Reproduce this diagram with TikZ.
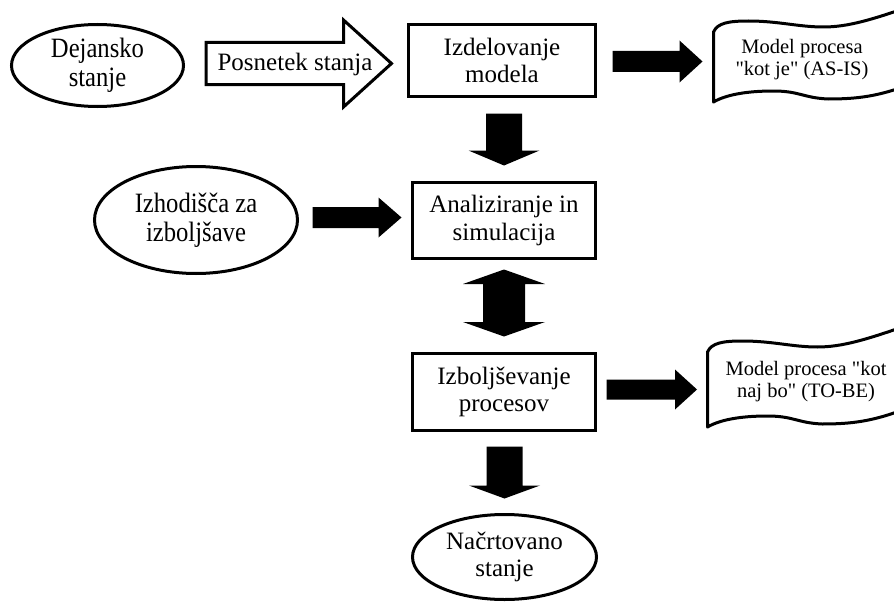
\documentclass[tikz,border=0pt]{standalone}
\usepackage{fontspec}
\setmainfont{Liberation Serif}[Ligatures=TeXOff]
\newfontfamily\tallfont{Liberation Serif}[FakeStretch=0.88, Ligatures=TeXOff]
\usetikzlibrary{shapes.geometric,calc}

\newcommand{\mainfs}{\fontsize{25}{27.5}\selectfont}
\newcommand{\tallfs}{\tallfont\fontsize{28}{29.5}\selectfont}
\newcommand{\tapefs}{\fontsize{20.5}{22}\selectfont}

% solid block arrow pointing right: tail x from #1, tip #2
\newcommand{\rblock}[5]{%
  \fill let \p1=(#1), \p2=(#2) in
    (\x1,\y2+#3) -- (\x2-#5,\y2+#3) -- (\x2-#5,\y2+#4) -- (\x2,\y2)
    -- (\x2-#5,\y2-#4) -- (\x2-#5,\y2-#3) -- (\x1,\y2-#3) -- cycle;}
% solid block arrow pointing down: tail y from #1, tip #2
\newcommand{\dblock}[5]{%
  \fill let \p1=(#1), \p2=(#2) in
    (\x2-#3,\y1) -- (\x2-#3,\y2+#5) -- (\x2-#4,\y2+#5) -- (\x2,\y2)
    -- (\x2+#4,\y2+#5) -- (\x2+#3,\y2+#5) -- (\x2+#3,\y1) -- cycle;}
% solid vertical block arrow with heads at both ends
\newcommand{\udblock}[5]{%
  \fill let \p1=(#1), \p2=(#2) in
    (\x2,\y1) -- (\x2+#4,\y1-#5) -- (\x2+#3,\y1-#5) -- (\x2+#3,\y2+#5)
    -- (\x2+#4,\y2+#5) -- (\x2,\y2) -- (\x2-#4,\y2+#5) -- (\x2-#3,\y2+#5)
    -- (\x2-#3,\y1-#5) -- (\x2-#4,\y1-#5) -- cycle;}
% punched-tape outline, origin at the top-left corner, #1 = height
\newcommand{\tapeoutline}[1]{%
  \draw[tapeline] (0,0) .. controls (4,-9) and (15,-11) .. (35,-11)
    .. controls (65,-11) and (85,-5) .. (110,-5)
    .. controls (135,-5) and (160,-13) .. (195,-25)
    -- (195,#1-17)
    .. controls (165,#1-6) and (145,#1-3) .. (115,#1-3)
    .. controls (90,#1-4) and (86,#1-11) .. (60,#1-11)
    .. controls (32,#1-11) and (12,#1-7) .. (0,#1) -- cycle;}

\tikzset{
  frame/.style={draw, line width=3pt, rectangle, inner sep=0pt, align=center, font=\mainfs},
  oval/.style={draw, line width=3pt, ellipse, inner sep=0pt, align=center, font=\mainfs},
  plain/.style={inner sep=0pt, align=center, font=\mainfs},
  tapetext/.style={inner sep=0pt, align=center, font=\tapefs},
  tapeline/.style={draw, line width=3pt, line join=round},
  hollow/.style={draw, line width=3pt, line join=miter, fill=white}
}

\begin{document}
\begin{tikzpicture}[x=1pt, y=-1pt]
\useasboundingbox (0,0) rectangle (894,602);
\path[clip] (0,0) rectangle (894,602);

% nodes
\node[oval, font=\tallfs, minimum width=172pt, minimum height=82pt] (dej) at (97.5,65.5) {Dejansko\\stanje};
\node[frame, minimum width=187pt, minimum height=72pt] (izdel) at (502,60.5) {Izdelovanje\\modela};
\node[oval, font=\tallfs, minimum width=203pt, minimum height=107pt] (izho) at (196,220) {Izhodišča za\\izboljšave};
\node[frame, minimum width=183pt, minimum height=76pt] (anal) at (504,220.5) {Analiziranje in\\simulacija};
\node[frame, minimum width=183pt, minimum height=77pt] (izbo) at (504,392) {Izboljševanje\\procesov};
\node[oval, minimum width=184pt, minimum height=85pt] (nacr) at (504.5,557) {Načrtovano\\stanje};

% output documents
\node[tapetext] (t1) at (802,60) {Model procesa\\"kot je" (AS-IS)};
\begin{scope}[shift={(t1.center)}, shift={(-88.5,-28)}]
  \tapeoutline{70}
  \coordinate (t1in) at (-11,29.5);
\end{scope}
\node[tapetext] (t2) at (806,382) {Model procesa "kot\\naj bo" (TO-BE)};
\begin{scope}[shift={(t2.center)}, shift={(-98.5,-30)}]
  \tapeoutline{75}
  \coordinate (t2in) at (-10.5,37.5);
\end{scope}

% hollow arrow carrying the label
\coordinate (ptail) at ($(dej.east)+(21,0)$);
\coordinate (ptip) at ($(izdel.west)+(-15.5,3)$);
\draw[hollow] let \p1=(ptail), \p2=(ptip) in
    (\x1,\y2+21pt) -- (\x2-48pt,\y2+21pt) -- (\x2-48pt,\y2+43.5pt) -- (\x2,\y2)
    -- (\x2-48pt,\y2-43.5pt) -- (\x2-48pt,\y2-21pt) -- (\x1,\y2-21pt) -- cycle;
\node[plain] (posn) at (295,64) {Posnetek stanja};

% solid arrows
\rblock{$(izdel.east)+(15.5,0)$}{t1in}{10.5pt}{21pt}{23pt}
\rblock{$(izho.east)+(13.5,0)$}{$(anal.west)+(-9.5,-3)$}{10.5pt}{20pt}{23pt}
\rblock{$(izbo.east)+(9.5,0)$}{t2in}{10pt}{20pt}{22pt}
\dblock{$(izdel.south)+(0,15.5)$}{$(anal.north)+(0,-15.5)$}{18pt}{35.5pt}{15pt}
\udblock{$(anal.south)+(0,9.5)$}{$(izbo.north)+(0,-15.5)$}{21pt}{41pt}{14.5pt}
\dblock{$(izbo.south)+(0,14.5)$}{$(nacr.north)+(0,-14.5)$}{18pt}{35.5pt}{13pt}
\end{tikzpicture}
\end{document}
